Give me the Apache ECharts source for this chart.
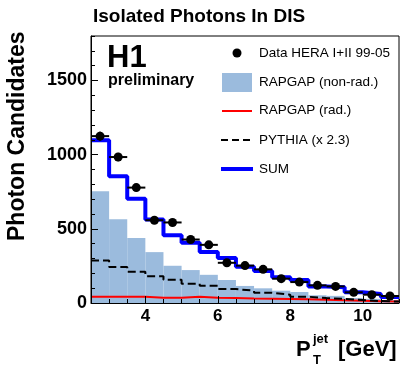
<!DOCTYPE html>
<html>
<head>
<meta charset="utf-8">
<script src="https://cdn.jsdelivr.net/npm/echarts@6/dist/echarts.min.js"></script>
<style>
html, body { margin: 0; padding: 0; background: #fff; }
#container { width: 410px; height: 376px; }
</style>
</head>
<body>
<div id="container"></div>
<script>
// bins of P_T^jet [GeV]
var binEdges = [2.5, 3, 3.5, 4, 4.5, 5, 5.5, 6, 6.5, 7, 7.5, 8, 8.5, 9, 9.5, 10, 10.5, 11];

// data points + stat. errors
var dataCounts = [1125, 984, 778, 558, 543, 428, 392, 271, 252, 227, 164, 141, 119, 112, 72, 56, 47];
var dataErrors = [30, 28, 25, 22, 22, 20, 19, 17, 16, 15, 13, 12, 11, 11, 9, 8, 7];

// MC predictions
var sumMC = [1097, 854, 702, 563, 457, 406, 343, 303, 245, 215, 173, 155, 112, 106, 72, 61, 40];
var rapgapNonRad = [753, 565, 439, 343, 251, 222, 190, 155, 115, 99, 83, 74, 52, 48, 34, 28, 20];
var rapgapRad = [42, 42, 42, 36, 36, 42, 36, 34, 30, 29, 27, 25, 22, 18, 15, 12, 10];
var pythia = [287, 242, 211, 180, 157, 130, 116, 94, 83, 69, 56, 42, 34, 27, 20, 13, 10];

// axis labels
var xTickLabels = [4, 6, 8, 10];
var yTickLabels = [0, 500, 1000, 1500];

var fillColor = '#9bbbdd';
var font = 'Liberation Sans, Arial, Helvetica, sans-serif';

var dom = document.getElementById('container');
var myChart = echarts.init(dom, null, { renderer: 'canvas' });

function stepPoints(vals) {
    var pts = [];
    for (var i = 0; i < vals.length; i++) {
        pts.push([binEdges[i], vals[i]]);
    }
    pts.push([binEdges[vals.length], vals[vals.length - 1]]);
    return pts;
}

var fillData = rapgapNonRad.map(function (v, i) {
    return [binEdges[i], binEdges[i + 1], v];
});

var pointData = dataCounts.map(function (v, i) {
    return [binEdges[i], binEdges[i + 1], (binEdges[i] + binEdges[i + 1]) / 2, v, dataErrors[i]];
});

var option = {
    animation: false,
    grid: {
        left: 91, right: 11, top: 36, bottom: 73,
        show: true, borderColor: '#000', borderWidth: 1
    },
    xAxis: [
        {
            type: 'value', min: 2.5, max: 11, interval: 0.5, z: 10,
            axisLine: { lineStyle: { color: '#000', width: 1 } },
            axisTick: { inside: true, length: 4, lineStyle: { color: '#000' } },
            axisLabel: { show: false },
            splitLine: { show: false }
        },
        {
            type: 'value', min: 2.5, max: 11, z: 10, position: 'bottom',
            axisLine: { show: false },
            axisTick: { inside: true, length: 7, customValues: xTickLabels, lineStyle: { color: '#000' } },
            axisLabel: {
                customValues: xTickLabels, margin: 5, color: '#000',
                fontFamily: font, fontWeight: 'bold', fontSize: 17,
                formatter: function (v) { return String(v); }
            },
            splitLine: { show: false }
        }
    ],
    yAxis: [
        {
            type: 'value', min: 0, max: 1800, interval: 100, z: 10,
            axisLine: { show: true, lineStyle: { color: '#000', width: 1 } },
            axisTick: { show: true, inside: true, length: 4, lineStyle: { color: '#000' } },
            axisLabel: { show: false },
            splitLine: { show: false }
        },
        {
            type: 'value', min: 0, max: 1800, z: 10, position: 'left',
            axisLine: { show: false },
            axisTick: { show: true, inside: true, length: 7, customValues: yTickLabels, lineStyle: { color: '#000' } },
            axisLabel: {
                customValues: yTickLabels, margin: 4, color: '#000',
                fontFamily: font, fontWeight: 'bold', fontSize: 18,
                formatter: function (v) { return String(v); }
            },
            splitLine: { show: false }
        }
    ],
    series: [
        {
            // RAPGAP non-rad. (filled histogram)
            type: 'custom', z: 1,
            encode: { x: [0, 1], y: 2 },
            data: fillData,
            renderItem: function (params, api) {
                var p0 = api.coord([api.value(0), api.value(2)]);
                var p1 = api.coord([api.value(1), 0]);
                return {
                    type: 'rect',
                    shape: { x: p0[0], y: p0[1], width: p1[0] - p0[0], height: p1[1] - p0[1] },
                    style: { fill: fillColor }
                };
            }
        },
        {
            name: 'RAPGAP (rad.)', type: 'line', step: 'end', z: 3,
            symbol: 'none', data: stepPoints(rapgapRad),
            lineStyle: { color: '#ff0000', width: 2 }
        },
        {
            name: 'PYTHIA (x 2.3)', type: 'line', step: 'end', z: 3,
            symbol: 'none', data: stepPoints(pythia),
            lineStyle: { color: '#000', width: 2, type: [8, 4] }
        },
        {
            name: 'SUM', type: 'line', step: 'end', z: 4,
            symbol: 'none', data: stepPoints(sumMC),
            lineStyle: { color: '#0000ff', width: 4 }
        },
        {
            // data points with error bars
            type: 'custom', z: 6,
            encode: { x: [0, 1], y: 3 },
            data: pointData,
            renderItem: function (params, api) {
                var lo = api.value(0), hi = api.value(1), c = api.value(2);
                var v = api.value(3), e = api.value(4);
                var pl = api.coord([lo, v]);
                var pr = api.coord([hi, v]);
                var pt = api.coord([c, v + e]);
                var pb = api.coord([c, v - e]);
                var pc = api.coord([c, v]);
                return {
                    type: 'group',
                    children: [
                        { type: 'line', shape: { x1: pl[0], y1: pl[1], x2: pr[0], y2: pr[1] }, style: { stroke: '#000', lineWidth: 2 } },
                        { type: 'line', shape: { x1: pt[0], y1: pt[1], x2: pb[0], y2: pb[1] }, style: { stroke: '#000', lineWidth: 2 } },
                        { type: 'circle', shape: { cx: pc[0], cy: pc[1], r: 4.5 }, style: { fill: '#000' } }
                    ]
                };
            }
        }
    ],
    graphic: [
        { type: 'text', x: 93, y: 17, style: { text: 'Isolated Photons In DIS', fontFamily: font, fontWeight: 'bold', fontSize: 19, fill: '#000', verticalAlign: 'middle' } },
        { type: 'text', x: 18, y: 241, rotation: Math.PI / 2, style: { text: 'Photon Candidates', fontFamily: font, fontWeight: 'bold', fontSize: 23, fill: '#000', align: 'left', verticalAlign: 'middle' } },
        { type: 'text', x: 107, y: 58, style: { text: 'H1', fontFamily: font, fontWeight: 'bold', fontSize: 31, fill: '#000', verticalAlign: 'middle' } },
        { type: 'text', x: 108, y: 81, style: { text: 'preliminary', fontFamily: font, fontWeight: 'bold', fontSize: 16, fill: '#000', verticalAlign: 'middle' } },

        // legend
        { type: 'circle', shape: { cx: 237, cy: 53, r: 4.5 }, style: { fill: '#000' } },
        { type: 'text', x: 259, y: 53, style: { text: 'Data HERA I+II 99-05', fontFamily: font, fontSize: 13.5, fill: '#000', verticalAlign: 'middle' } },
        { type: 'rect', shape: { x: 222, y: 73, width: 30, height: 19 }, style: { fill: fillColor } },
        { type: 'text', x: 259, y: 82, style: { text: 'RAPGAP (non-rad.)', fontFamily: font, fontSize: 13.5, fill: '#000', verticalAlign: 'middle' } },
        { type: 'line', shape: { x1: 222, y1: 111, x2: 252, y2: 111 }, style: { stroke: '#ff0000', lineWidth: 2 } },
        { type: 'text', x: 259, y: 110, style: { text: 'RAPGAP (rad.)', fontFamily: font, fontSize: 13.5, fill: '#000', verticalAlign: 'middle' } },
        { type: 'line', shape: { x1: 221, y1: 140, x2: 253, y2: 140 }, style: { stroke: '#000', lineWidth: 2, lineDash: [7, 4] } },
        { type: 'text', x: 259, y: 140, style: { text: 'PYTHIA (x 2.3)', fontFamily: font, fontSize: 13.5, fill: '#000', verticalAlign: 'middle' } },
        { type: 'line', shape: { x1: 221, y1: 169, x2: 253, y2: 169 }, style: { stroke: '#0000ff', lineWidth: 4 } },
        { type: 'text', x: 259, y: 169, style: { text: 'SUM', fontFamily: font, fontSize: 13.5, fill: '#000', verticalAlign: 'middle' } },

        // x axis title
        { type: 'text', x: 296, y: 350, style: { text: 'P', fontFamily: font, fontWeight: 'bold', fontSize: 22, fill: '#000', verticalAlign: 'middle' } },
        { type: 'text', x: 313, y: 360, style: { text: 'T', fontFamily: font, fontWeight: 'bold', fontSize: 13, fill: '#000', verticalAlign: 'middle' } },
        { type: 'text', x: 313, y: 339, style: { text: 'jet', fontFamily: font, fontWeight: 'bold', fontSize: 13, fill: '#000', verticalAlign: 'middle' } },
        { type: 'text', x: 338, y: 350, style: { text: '[GeV]', fontFamily: font, fontWeight: 'bold', fontSize: 22, fill: '#000', verticalAlign: 'middle' } }
    ]
};

myChart.setOption(option);
window.addEventListener('resize', myChart.resize);
</script>
</body>
</html>
